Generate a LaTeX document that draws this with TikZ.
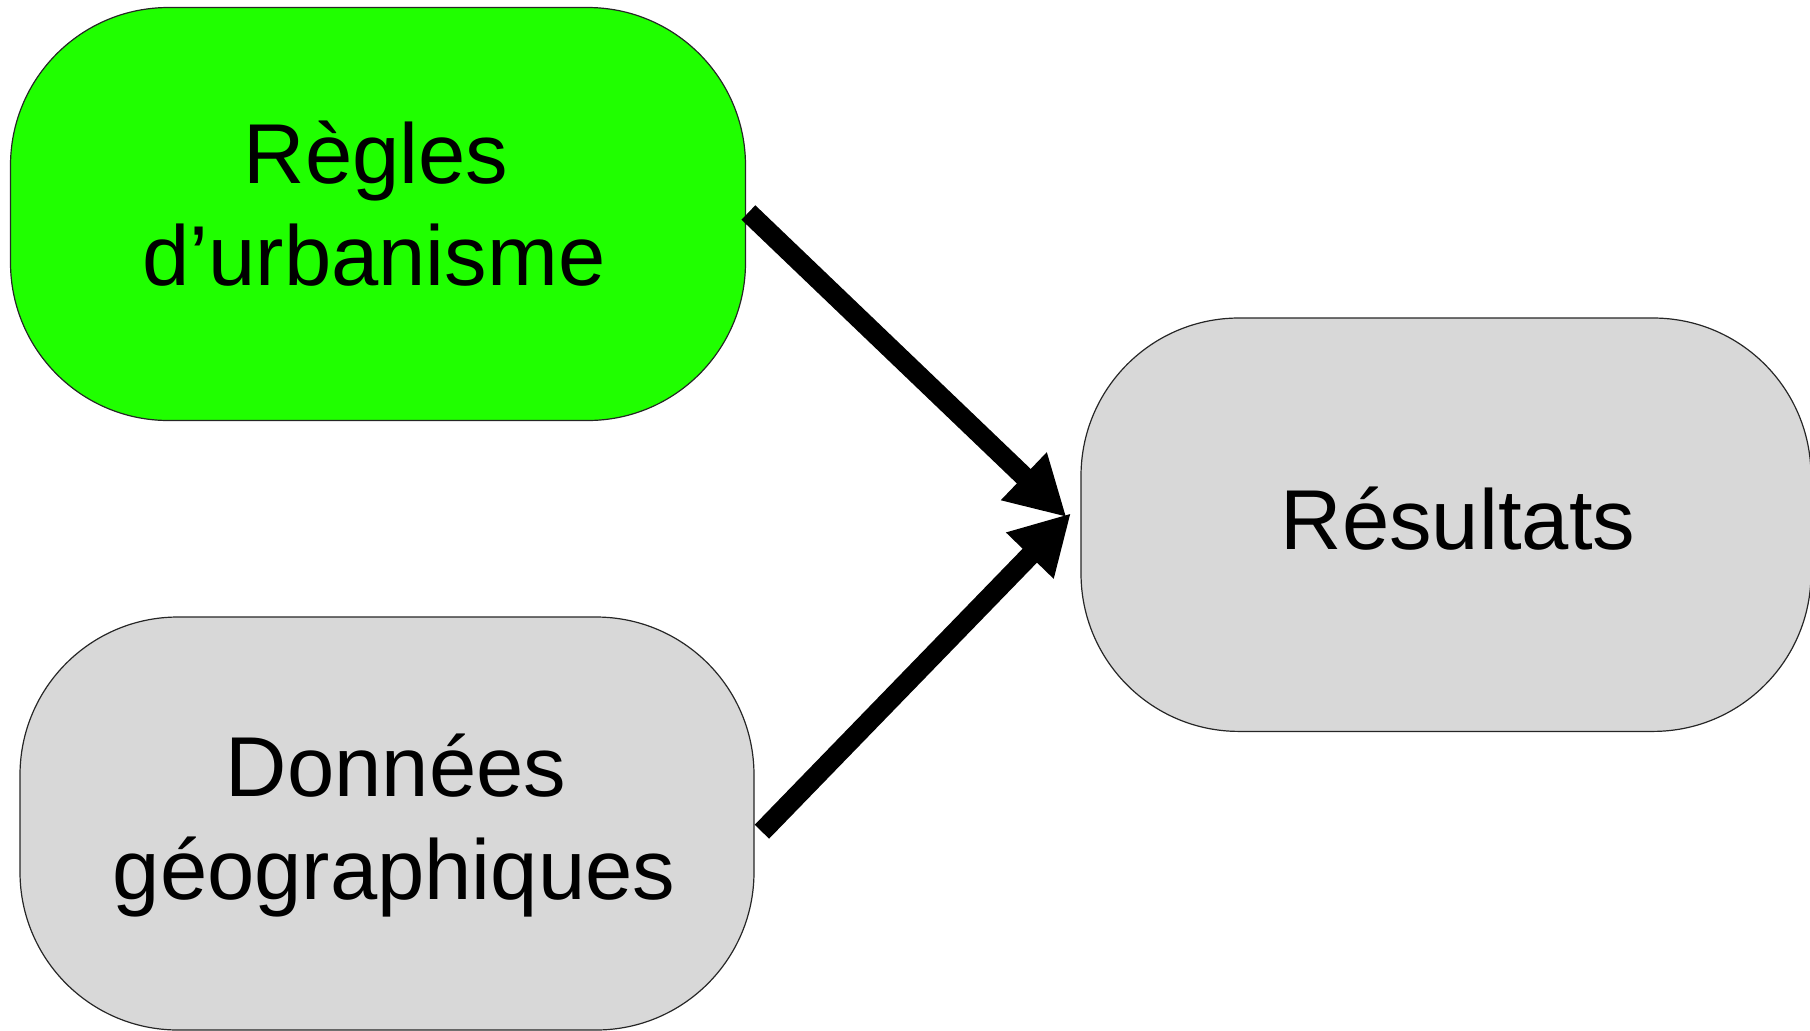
\documentclass[tikz,border=0pt]{standalone}
\usepackage{fontspec}
\setmainfont{Liberation Sans}
\usetikzlibrary{arrows.meta,calc}
\definecolor{boxgreen}{RGB}{32,255,0}
\definecolor{boxgray}{RGB}{216,216,216}
\tikzset{
  roundbox/.style={draw=black!85, line width=0.6pt, rectangle, rounded corners=79pt,
    inner sep=0pt, minimum width=#1},
  roundbox/.default=367pt,
  boxtext/.style={anchor=base, inner sep=0pt, font=\fontsize{42.5pt}{50.85pt}\selectfont},
  flow/.style={line width=10pt, -{Triangle[length=29.5pt,width=31pt]}},
}
\begin{document}
\begin{tikzpicture}[x=0.5pt,y=-0.5pt]
  \useasboundingbox (0,0) rectangle (1810,1030);

  % the three rounded boxes
  \node[roundbox=367.5pt, fill=boxgreen, minimum height=206.5pt] (regles) at (378,214) {};
  \node[roundbox=367pt, fill=boxgray, minimum height=206.5pt] (donnees) at (387,823.5) {};
  \node[roundbox=365pt, fill=boxgray, minimum height=206.7pt] (resultats) at (1446,524.7) {};

  % labels
  \node[boxtext] (t1) at (376,183.3) {Règles};
  \node[boxtext] (t2) at (374,285) {d’urbanisme};
  \node[boxtext] (t3) at (396,796.7) {Données};
  \node[boxtext] (t4) at (394,899) {géographiques};
  \node[boxtext] (t5) at (1458,549) {Résultats};

  % arrow tips meet just before the result box
  \coordinate (tipA) at ($(resultats.west)+(-14,-7.7)$);
  \coordinate (tipB) at ($(resultats.west)+(-9.5,-11.4)$);
  \coordinate (startA) at ($(regles.east)+(2.3,-1.5)$);
  \coordinate (startB) at ($(donnees.east)+(7.3,8.2)$);

  \draw[flow] (startA) -- (tipA);
  \draw[flow] (startB) -- (tipB);
\end{tikzpicture}
\end{document}
